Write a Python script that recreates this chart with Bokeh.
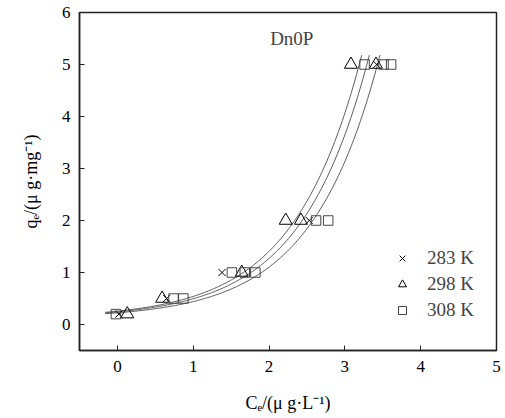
import numpy as np
from bokeh.plotting import figure
from bokeh.models import Label, Legend, LegendItem, Range1d
from bokeh.embed import file_html
from bokeh.resources import INLINE

# ---- data ----
series_names = ["283 K", "298 K", "308 K"]
c_283 = [0.02, 0.65, 1.38, 2.53, 3.42]
q_283 = [0.2, 0.5, 1.0, 2.0, 5.0]
c_298 = [0.13, 0.59, 1.64, 2.22, 2.42, 3.08, 3.41]
q_298 = [0.2, 0.5, 1.0, 2.0, 2.0, 5.0, 5.0]
c_308 = [-0.02, 0.74, 0.87, 1.51, 1.68, 1.82, 2.62, 2.78, 3.26, 3.51, 3.61]
q_308 = [0.2, 0.5, 0.5, 1.0, 1.0, 1.0, 2.0, 2.0, 5.0, 5.0, 5.0]
# fitted curves: q = c0 + a*exp(b*C)
fit_a = [0.137, 0.1225, 0.1047]
fit_b = [1.12, 1.12, 1.12]
fit_c0 = [0.12, 0.12, 0.12]
fit_start = -0.16
fit_qmax = 5.18
x_ticks = [0, 1, 2, 3, 4, 5]
y_ticks = [0, 1, 2, 3, 4, 5, 6]
x_title = "Cₑ/(μ g·L⁻¹)"
y_title = "qₑ/(μ g·mg⁻¹)"
panel_title = "Dn0P"

SERIF = "Liberation Serif"

p = figure(width=504, height=416, frame_width=417, frame_height=338,
           min_border_left=79, min_border_right=8, min_border_top=12, min_border_bottom=66,
           x_range=Range1d(-0.5, 5.0), y_range=Range1d(-0.5, 6.0),
           output_backend="svg", toolbar_location=None)
p.grid.visible = False
p.outline_line_color = "#222222"
p.outline_line_width = 1.5
for ax in (p.xaxis[0], p.yaxis[0]):
    ax.axis_line_color = "#222222"
    ax.axis_line_width = 1.5
    ax.major_tick_in = 5
    ax.major_tick_out = 0
    ax.major_tick_line_color = "#222222"
    ax.minor_tick_line_color = None
    ax.major_label_text_font = SERIF
    ax.major_label_text_font_size = "17px"
    ax.major_label_text_color = "black"
    ax.axis_label_text_font = SERIF
    ax.axis_label_text_font_size = "18px"
    ax.axis_label_text_font_style = "normal"
    ax.axis_label_text_color = "black"
p.xaxis.ticker = x_ticks
p.yaxis.ticker = y_ticks
p.xaxis.major_label_standoff = 10
p.yaxis.major_label_standoff = 9
p.xaxis.axis_label = x_title
p.yaxis.axis_label = y_title
p.xaxis.axis_label_standoff = 18
p.yaxis.axis_label_standoff = 18

# curves
for a, b, c0 in zip(fit_a, fit_b, fit_c0):
    c_end = np.log((fit_qmax - c0) / a) / b
    cc = np.linspace(fit_start, c_end, 200)
    p.line(cc, c0 + a * np.exp(b * cc), line_color="#333333", line_width=0.8)

r1 = p.scatter(c_283, q_283, marker="x", size=10, line_color="black", line_width=1)
r2 = p.scatter(c_298, q_298, marker="triangle", size=13, fill_color=None,
               line_color="black", line_width=1)
r3 = p.scatter(c_308, q_308, marker="square", size=9.5, fill_color=None,
               line_color="#444444", line_width=1)

legend = Legend(items=[LegendItem(label=series_names[0], renderers=[r1]),
                       LegendItem(label=series_names[1], renderers=[r2]),
                       LegendItem(label=series_names[2], renderers=[r3])],
                location=(308, 24), background_fill_alpha=0, border_line_alpha=0,
                label_text_font=SERIF, label_text_font_size="19px",
                glyph_width=20, glyph_height=20, label_height=20,
                label_standoff=15, spacing=4, padding=5, margin=0)
p.add_layout(legend, "center")

p.add_layout(Label(x=2.3, y=5.5, text=panel_title, text_font=SERIF, text_font_size="19px",
                   text_align="center", text_baseline="middle"))

open("out.html", "w").write(file_html(p, INLINE))
